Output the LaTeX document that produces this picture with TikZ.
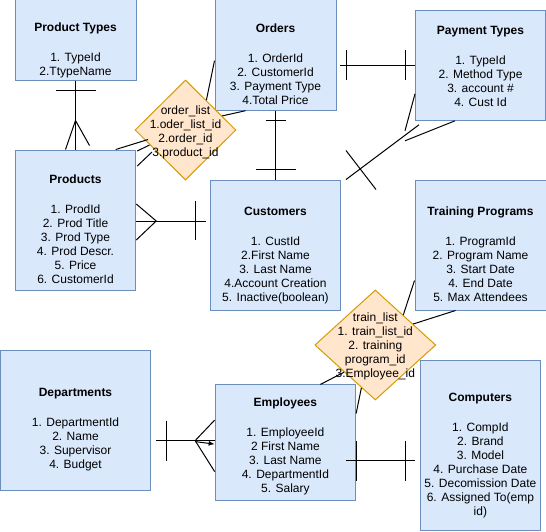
\documentclass[tikz,border=0pt]{standalone}
\usepackage{fontspec}
\setmainfont{Liberation Sans}
\usetikzlibrary{arrows.meta,shapes.geometric,calc}
\definecolor{entfill}{HTML}{DAE8FC}
\definecolor{entline}{HTML}{6C8EBF}
\definecolor{relfill}{HTML}{FFE6CC}
\definecolor{relline}{HTML}{D79B00}

\begin{document}
\begin{tikzpicture}[x=1pt, y=-1pt,
  entity/.style={draw=entline, fill=entfill, line width=1pt, inner sep=0pt},
  relation/.style={diamond, draw=relline, fill=relfill, line width=1pt, inner sep=0pt},
  attrs/.style={align=center, inner sep=0pt, anchor=north, font=\fontsize{12}{14}\selectfont},
  conn/.style={draw=black, line width=1pt}
]
\useasboundingbox (0,0) rectangle (546,531);

% entities
\node[entity, minimum width=121, minimum height=100] (ptypes) at (75.5,30) {};
\node[attrs] (ptypes-t) at (75.5,22.5) {\textbf{Product Types}\\[16pt]1. TypeId\\2.TtypeName};

\node[entity, minimum width=121, minimum height=130] (orders) at (275.5,45.2) {};
\node[attrs] (orders-t) at (275.5,23.5) {\textbf{Orders}\\[16pt]1. OrderId\\2. CustomerId\\3. Payment Type\\4.Total Price};

\node[entity, minimum width=130, minimum height=110] (paytypes) at (480.5,65.3) {};
\node[attrs] (paytypes-t) at (480.5,26.5) {\textbf{Payment Types}\\[16pt]1. TypeId\\2. Method Type\\3. account \#\\4. Cust Id};

\node[entity, minimum width=120.5, minimum height=140] (products) at (75.5,220) {};
\node[attrs] (products-t) at (75.5,174.5) {\textbf{Products}\\[16pt]1. ProdId\\2. Prod Title\\3. Prod Type\\4. Prod Descr.\\5. Price\\6. CustomerId};

\node[entity, minimum width=130, minimum height=130] (customers) at (275.5,245) {};
\node[attrs] (customers-t) at (275.5,206.5) {\textbf{Customers}\\[16pt]1. CustId\\2.First Name\\3. Last Name\\4.Account Creation\\5. Inactive(boolean)};

\node[entity, minimum width=131, minimum height=130] (trprog) at (480.5,245) {};
\node[attrs] (trprog-t) at (480.5,206.5) {\textbf{Training Programs}\\[16pt]1. ProgramId\\2. Program Name\\3. Start Date\\4. End Date\\5. Max Attendees};

\node[entity, minimum width=150, minimum height=140] (depts) at (75.5,420) {};
\node[attrs] (depts-t) at (75.5,388.5) {\textbf{Departments}\\[16pt]1. DepartmentId\\2. Name\\3. Supervisor\\4. Budget};

\node[entity, minimum width=140.5, minimum height=115.3] (employees) at (285.4,442.6) {};
\node[attrs] (employees-t) at (285.4,397.5) {\textbf{Employees}\\[16pt]1. EmployeeId\\2 First Name\\3. Last Name\\4. DepartmentId\\5. Salary};

\node[entity, minimum width=120.6, minimum height=170.6] (computers) at (480.4,445.3) {};
\node[attrs] (computers-t) at (480.4,392.5) {\textbf{Computers}\\[16pt]1. CompId\\2. Brand\\3. Model\\4. Purchase Date\\5. Decomission Date\\6. Assigned To(emp\\id)};

% relations
\node[relation, minimum width=101, minimum height=100] (olist) at (185.5,130) {};
\node[attrs] (olist-t) at (185.5,106) {order\_list\\1.oder\_list\_id\\2.order\_id\\3.product\_id};

\node[relation, minimum width=121, minimum height=110] (tlist) at (375.3,345) {};
\node[attrs] (tlist-t) at (375.3,313) {train\_list\\1. train\_list\_id\\2. training\\program\_id\\3.Employee\_id};

% product types - products
\draw[conn] (ptypes.south) -- (products.north);
\draw[conn] ($(ptypes.south)+(-20,10)$) -- ($(ptypes.south)+(20,10)$);
\draw[conn] ($(products.north)+(-10,0)$) -- ($(products.north)+(0,-29)$) -- ($(products.north)+(14,-4)$);

% orders - payment types
\draw[conn] ($(orders.east |- paytypes.west)+(3,0)$) -- (paytypes.west);
\draw[conn] ($(orders.east |- paytypes.west)+(10,-15)$) -- ($(orders.east |- paytypes.west)+(10,15)$);
\draw[conn] ($(paytypes.west)+(-10,-15)$) -- ($(paytypes.west)+(-10,15)$);

% orders - customers
\draw[conn] (orders.south) -- (customers.north);
\draw[conn] ($(orders.south)+(-10,10)$) -- ($(orders.south)+(10,10)$);
\draw[conn] ($(customers.north)+(-20,-10)$) -- ($(customers.north)+(20,-10)$);

% customers - payment types
\draw[conn] ($(customers.north east)+(5,0)$) -- ($(paytypes.south west)+(4,4)$);
\draw[conn] ($(customers.north east)+(5,-29)$) -- ($(customers.north east)+(35,10)$);
\draw[conn] ($(paytypes.south west)+(-10,10)$) -- ($(paytypes.south west)+(0,-27)$);
\draw[conn] ($(paytypes.south west)+(-10,20)$) -- ($(paytypes.south west)+(40,0)$);

% products - customers
\draw[conn] ($(products.east)+(0,1)$) -- ($(products.east -| customers.west)+(-4,1)$);
\draw[conn] ($(products.east)+(0,-16)$) -- ($(products.east)+(20,1)$) -- ($(products.east)+(0,20)$);
\draw[conn] ($(customers.west |- products.east)+(-15,-19)$) -- ($(customers.west |- products.east)+(-15,20)$);

% order_list
\draw[conn] ($(orders.south west)+(0,-50)$) -- (olist.55);
\draw[conn] (olist.21) -- ($(orders.south)+(-30,0)$);
\draw[conn] ($(products.north east)+(-20.5,0)$) -- ($(olist.center)+(-37.5,9.5)$);
\draw[conn] ($(products.north east)+(1,1.5)$) -- ($(olist.center)+(-36,15)$);
\draw[conn] ($(products.north east)+(1,16.5)$) -- ($(olist.center)+(-33.5,22)$);

% train_list
\draw[conn] (tlist.47) -- ($(trprog.south west)+(0,-30)$);
\draw[conn] (tlist.29) -- ($(trprog.south)+(-25,0)$);
\draw[conn] ($(employees.north)+(35,0)$) -- (tlist.221);
\draw[conn] ($(employees.north east)+(0,29)$) -- (tlist.252);

% employees - computers
\draw[conn] ($(employees.south east)+(-10,-40)$) -- ($(employees.south east -| computers.west)+(-5,-40)$);
\draw[conn] ($(employees.south east)+(0,-60)$) -- ($(employees.south east)+(0,-20)$);
\draw[conn] ($(computers.west |- employees.south east)+(-14,-60)$) -- ($(computers.west |- employees.south east)+(-14,-20)$);

% departments - employees
\draw[conn] ($(depts.east |- employees.west)+(5,-2)$) -- ($(employees.west)+(0,-2)$);
\draw[conn] ($(depts.east |- employees.west)+(15,-22)$) -- ($(depts.east |- employees.west)+(15,18)$);
\draw[conn] ($(employees.west)+(0,-22.5)$) -- ($(employees.west)+(-19.5,-2)$) -- ($(employees.west)+(0,29)$);
\draw[conn, -{Latex[length=6pt,width=5pt]}] ($(employees.west)+(-19.5,-1)$) -- ($(employees.west)+(0,1.5)$);

\end{tikzpicture}
\end{document}
